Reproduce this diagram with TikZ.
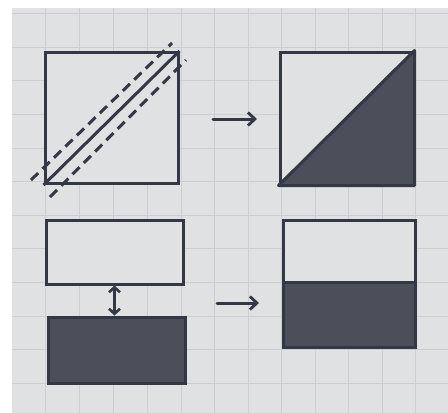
\documentclass[tikz,border=0pt]{standalone}
\usetikzlibrary{arrows.meta}
\definecolor{paper}{RGB}{223,225,227}
\definecolor{gridc}{RGB}{203,206,210}
\definecolor{ink}{RGB}{52,55,68}
\definecolor{darkfill}{RGB}{76,79,89}
\tikzset{
  box/.style={draw=ink, line width=3pt, rectangle, inner sep=0pt, fill=paper},
  arr/.style={draw=ink, line width=3pt, line cap=round, -{Straight Barb[length=7pt,width=13pt,line width=2.8pt]}},
  dbl/.style={draw=ink, line width=2.8pt, {Straight Barb[length=5pt,width=11pt,line width=2.6pt]}-{Straight Barb[length=5pt,width=11pt,line width=2.6pt]}},
  cutline/.style={draw=ink, line width=3pt, dash pattern=on 10pt off 6pt},
}
\begin{document}
\begin{tikzpicture}[x=1pt,y=-1pt]
\useasboundingbox (0,0) rectangle (448,413);
\fill[white] (0,0) rectangle (448,413);
\fill[paper] (12,8) rectangle (448,413);
\begin{scope}
\clip (12,8) rectangle (448,413);
\foreach \gx in {45,79,113,147,181,214,248,281,315,348,382,415} \draw[gridc, line width=1pt] (\gx,8) -- (\gx,413);
\foreach \gy in {13,47,80,114,148,181,215,248,282,316,349,383} \draw[gridc, line width=1pt] (12,\gy) -- (448,\gy);
\end{scope}
% top left square with cut lines
\node[box, minimum width=133pt, minimum height=131pt] (sq1) at (111.5,118) {};
\draw[cutline] (31,180) -- (172,43);
\draw[cutline] (50,197) -- (186,60);
\draw[draw=ink, line width=3pt] (sq1.south west) -- (sq1.north east);
% top right square, half shaded
\node[box, minimum width=133pt, minimum height=132pt] (sq2) at (346.5,118) {};
\filldraw[fill=darkfill, draw=ink, line width=3pt, line join=round] (sq2.south west) -- (sq2.north east) -- (sq2.south east) -- cycle;
% bottom left rectangles
\node[box, minimum width=137pt, minimum height=64pt] (r1) at (114.5,252) {};
\node[box, fill=darkfill, minimum width=137pt, minimum height=66pt] (r2) at (116.5,350) {};
\draw[dbl] (r1.south) -- (r1.south |- r2.north);
% bottom right rectangle
\node[box, minimum width=132pt, minimum height=62pt] (r3) at (349,251) {};
\node[box, fill=darkfill, minimum width=132pt, minimum height=65pt] (r4) at (349,314.5) {};
% arrows
\coordinate (a1s) at (213,119);
\coordinate (a1e) at (257,119);
\coordinate (a2s) at (217,303);
\coordinate (a2e) at (259,303);
\draw[arr] (a1s) -- (a1e);
\draw[arr] (a2s) -- (a2e);
\end{tikzpicture}
\end{document}
